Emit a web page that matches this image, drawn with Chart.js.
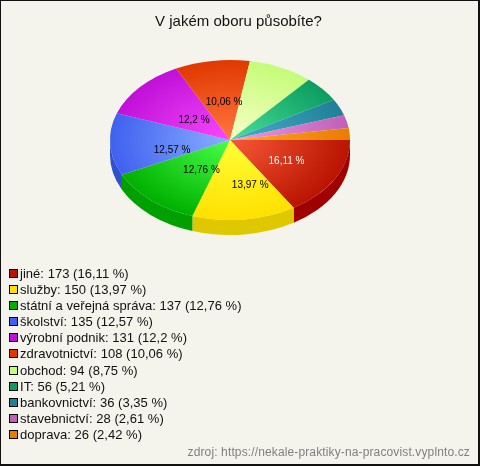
<!DOCTYPE html>
<html>
<head>
<meta charset="utf-8">
<title>V jakém oboru působíte?</title>
<script src="https://cdn.jsdelivr.net/npm/chart.js@4"></script>
<style>
  html, body { margin: 0; padding: 0; background: #f4f4ec; }
  #wrap { position: relative; box-sizing: border-box; width: 480px; height: 466px; border: solid #111; border-width: 1px 2px 2px 1px; overflow: hidden; }
  #pie { position: absolute; left: -1px; top: -1px; }
  #title { position: absolute; left: 0; width: 475px; top: 11px; text-align: center; font: 15px "Liberation Sans", Arial, sans-serif; color: #111; }
  #legend { position: absolute; left: 8px; top: 265px; font: 13px "Liberation Sans", Arial, sans-serif; letter-spacing: 0.03px; color: #111; }
  #legend div { height: 16.1px; line-height: 16px; white-space: nowrap; }
  #legend i { display: inline-block; width: 7px; height: 7px; border: 1px solid #000; margin-right: 2px; vertical-align: 0; }
  #source { position: absolute; right: 8px; top: 444px; font: 12px "Liberation Sans", Arial, sans-serif; letter-spacing: 0.13px; color: #808080; }
</style>
</head>
<body>
<div id="wrap">
  <canvas id="pie" width="480" height="466"></canvas>
  <div id="title">V jakém oboru působíte?</div>
  <div id="legend"></div>
  <div id="source">zdroj: https://nekale-praktiky-na-pracovist.vyplnto.cz</div>
</div>
<script>
const categories = ['jiné', 'služby', 'státní a veřejná správa', 'školství', 'výrobní podnik',
    'zdravotnictví', 'obchod', 'IT', 'bankovnictví', 'stavebnictví', 'doprava'];
const counts = [173, 150, 137, 135, 131, 108, 94, 56, 36, 28, 26];
const percents = ['16,11', '13,97', '12,76', '12,57', '12,2', '10,06', '8,75', '5,21', '3,35', '2,61', '2,42'];
// base colour, light colour near the centre, colour of the side wall
const baseColors = ['#b81400', '#ffe000', '#00b000', '#4060f0', '#c010d8', '#e03800', '#c4fc78', '#0c9c60', '#1f8098', '#c060b8', '#ea7c00'];
const lightColors = ['#f85838', '#ffff38', '#48ff48', '#88b0ff', '#f848ff', '#ff7840', '#f8ffc8', '#48e098', '#48b0c8', '#f098e8', '#ffa828'];
const sideColors = ['#a00000', '#e0c800', '#00a000', '#3050d0', '#9000a0', '#c03000', '#a0d060', '#088048', '#106070', '#904090', '#c06000'];
// only the six biggest slices carry a label
const labelColors = ['#fff', '#000', '#000', '#000', '#000', '#000'];
const labelNudges = [[4, 2], [13, 6], [11, 0], [2, 8], [9, 7], [3, 2]];

const SQUASH = 2 / 3;   // ellipse height / width
const DEPTH = 15;       // thickness of the pie
const CENTER_Y = 140;

// squashes the pie vertically and draws the side wall under it
const tiltPlugin = {
    id: 'tilt',
    beforeDatasetsDraw(chart) {
        const ctx = chart.ctx;
        const arcs = chart.getDatasetMeta(0).data;
        ctx.save();
        ctx.translate(0, CENTER_Y);
        ctx.scale(1, SQUASH);
        ctx.translate(0, -arcs[0].y);
        // only the front half of the wall can be seen
        arcs.forEach((arc, i) => {
            const start = Math.max(arc.startAngle, 0);
            const end = Math.min(arc.endAngle, Math.PI);
            if (end <= start) return;
            ctx.fillStyle = sideColors[i];
            ctx.beginPath();
            ctx.arc(arc.x, arc.y, arc.outerRadius, start, end);
            ctx.arc(arc.x, arc.y + DEPTH / SQUASH, arc.outerRadius, end, start, true);
            ctx.closePath();
            ctx.fill();
        });
    },
    afterDatasetsDraw(chart) {
        const ctx = chart.ctx;
        ctx.restore();
        const arcs = chart.getDatasetMeta(0).data;
        ctx.font = '10px "Liberation Sans", Arial, sans-serif';
        ctx.textAlign = 'center';
        ctx.textBaseline = 'middle';
        labelColors.forEach((color, i) => {
            const arc = arcs[i];
            const mid = (arc.startAngle + arc.endAngle) / 2;
            ctx.fillStyle = color;
            ctx.fillText(percents[i] + ' %',
                arc.x + labelNudges[i][0] + arc.outerRadius * 0.5 * Math.cos(mid),
                CENTER_Y + labelNudges[i][1] + arc.outerRadius * SQUASH * 0.5 * Math.sin(mid));
        });
    }
};

function sliceGradient(context) {
    const area = context.chart.chartArea;
    if (!area) return baseColors[context.dataIndex];
    const cx = (area.left + area.right) / 2;
    const cy = (area.top + area.bottom) / 2;
    const g = context.chart.ctx.createRadialGradient(cx, cy, 0, cx, cy, 120);
    g.addColorStop(0, lightColors[context.dataIndex]);
    g.addColorStop(1, baseColors[context.dataIndex]);
    return g;
}

new Chart(document.getElementById('pie'), {
    type: 'pie',
    data: {
        labels: categories,
        datasets: [{
            data: counts,
            backgroundColor: sliceGradient,
            borderWidth: 0
        }]
    },
    options: {
        responsive: false,
        animation: false,
        rotation: 90,
        radius: 120,
        layout: { padding: { left: 0, right: 20, top: 20, bottom: 186 } },
        plugins: {
            legend: { display: false },
            tooltip: { enabled: false }
        }
    },
    plugins: [tiltPlugin]
});

// legend under the pie
document.getElementById('legend').innerHTML = categories.map((name, i) =>
    `<div><i style="background:${baseColors[i]}"></i>${name}: ${counts[i]} (${percents[i]} %)</div>`
).join('');
</script>
</body>
</html>
